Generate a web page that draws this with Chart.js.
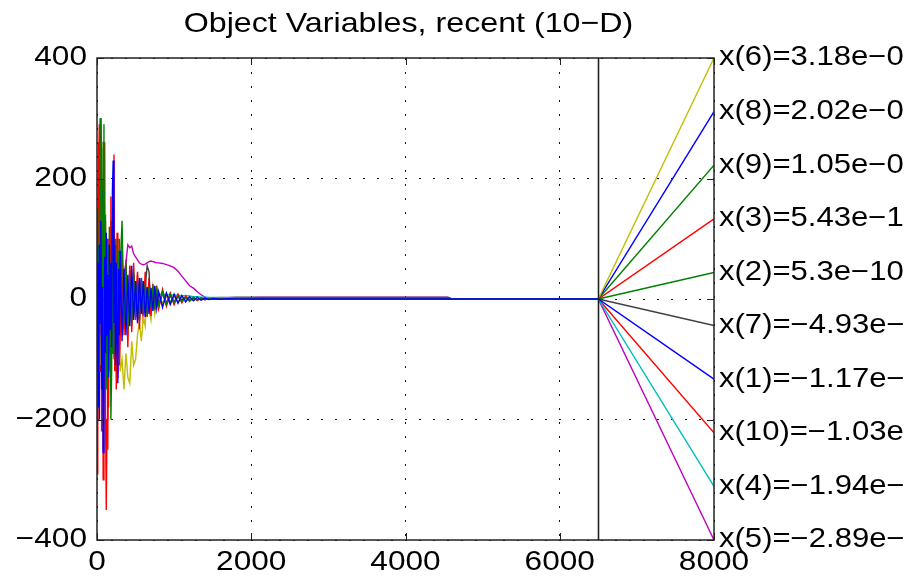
<!DOCTYPE html>
<html>
<head>
<meta charset="utf-8">
<script src="https://cdn.jsdelivr.net/npm/chart.js@4"></script>
<style>
  html, body { margin: 0; padding: 0; background: #fff; }
  #wrap { width: 904px; height: 584px; }
</style>
</head>
<body>
<div id="wrap"><canvas id="c" width="904" height="584"></canvas></div>
<script>
// iteration numbers shared by all ten object variables
const iters = [
  0, 10, 20, 30, 40, 50, 60, 70, 80, 90,
  100, 110, 120, 130, 140, 150, 160, 170, 180, 190,
  200, 210, 220, 230, 240, 250, 260, 270, 280, 290,
  300, 325, 350, 375, 400, 425, 450, 475, 500, 525,
  550, 575, 600, 625, 650, 675, 700, 725, 750, 775,
  800, 850, 900, 950, 1000, 1050, 1100, 1150, 1200, 1250,
  1300, 1350, 1400, 1450,
  1500, 1600, 1700, 1800, 2000, 2100, 2600, 3200, 3900, 4550, 4600, 6500
];

const x1 = [
  -120, 60, -180, 90, -40, 130, -150, 20, -255, -200, 70, -90, 110, -60, 40, -130, 90, -50, 60, -80,
  180, 230, -40, 90, -110, 60, -70, -140, 50, -60,
  80, -70, 50, -60, 40, -45, 55, -35, 30, -40, 35, -25, 30, -30, 20, -25, 18, -20, 22, -15,
  12, -14, 10, -9, 8, -7, 6, -5, 4, -3, 3, -2, 1.5, -1,
  0.8, -0.5, 0.3, 0.2, 0.1, 0.1, 0, 0, 0, 0, 0, 0
];
const x2 = [
  150, -60, 90, -120, 200, 300, 120, -40, 260, 290, -80, 140, -150, 60, -100, 90, -60, 40, -200, -120,
  70, -90, 50, -30, 100, -70, 60, -50, 80, -40,
  50, 130, -40, 60, -50, 35, -40, 45, -30, 25, -35, 30, -20, 25, -28, 20, -15, 18, -12, 15,
  -10, 12, -8, 7, -6, 5, -4, 3, -3, 2, -1.5, 1, -0.8, 0.5,
  -0.3, 0.2, -0.1, 0.1, 0, 0, 0, 0, 0, 0, 0, 0
];
const x3 = [
  -290, -150, 200, 290, 120, 280, -220, 150, -100, 80, 260, -180, -350, -200, 100, -180, 60, -90, 170, -60,
  120, -90, 240, -120, 50, -150, 110, -80, 60, -110,
  -70, 90, -60, 40, -80, 55, -45, 60, -35, 40, -50, 30, -25, 45, -30, 20, -28, 25, -18, 22,
  -15, 16, -12, 10, -9, 8, -6, 5, -4, 3, -2.5, 2, -1.2, 0.8,
  0.5, -0.3, 0.2, 0.1, 0, 0, 0, 0, 0, 0, 0, 0
];
const x4 = [
  50, -70, 90, -120, 60, -40, 80, -90, 30, -60, 40, -50, 60, -30, 40, -45, 20, -35, 25, -20,
  70, -40, 30, -50, 45, -25, 35, -30, 20, -15,
  30, -25, 20, -20, 15, -18, 12, -10, 14, -8, 10, 12, 8, -5, 9, 7, 10, 6, 8, 5,
  9, 7, 8, 6, 7, 6, 5, 6, 5, 4, 4, 3, 3, 2.5,
  2.5, 2, 2, 1.5, 1, 0.5, 0.3, 0.2, 0.1, 0.1, 0, 0
];
const x5 = [
  80, -120, 60, -90, 140, -60, 100, -40, 70, -20, 50, -110, 30, -120, 60, -80, 20, -40, 30, 10,
  -60, 40, -90, 30, -50, 60, -130, -40, 20, 50,
  30, -20, 40, 60, 90, 85, 88, 75, 70, 65, 60, 58, 57, 58, 60, 62, 63, 62, 61, 60,
  60, 59, 57, 55, 52, 46, 38, 30, 22, 18, 12, 7, 3, 1.5,
  0.8, 0.5, 1, 1.5, 2, 2.5, 2.5, 2.5, 2.5, 2.5, 0, 0
];
const x6 = [
  30, -60, 100, -80, 50, -110, 70, -50, 40, -90, 60, -70, 30, -100, 50, -60, 20, -120, 40, -80,
  60, -40, 90, -70, 30, -50, 80, -90, -30, -60,
  -120, -100, -150, -90, -130, -140, -70, -110, -100, -60, -40, -70, -30, -45, 15, -20, -35, 10, -25, -8,
  8, -10, 6, -8, 5, -5, 4, -3, 3, -2, 1.5, -1, 0.5, -0.3,
  0.2, 0.1, 0, 0, 0, 0, 0, 0, 0, 0, 0, 0
];
const x7 = [
  -60, 100, -40, 70, -110, 50, -80, 120, -30, 60, -70, 40, -90, 50, -30, 80, -60, 30, -50, 40,
  -30, 60, -40, 25, -60, 35, -20, 45, -35, 30,
  -40, 25, -30, 20, -35, 15, -25, 30, -20, 15, -25, 35, -10, 20, 55, 45, -30, 15, -20, 10,
  -8, 10, -6, 5, -5, 4, -3, 2.5, -2, 1.5, -1, 1, 1.5, 2,
  2, 2.5, 2.5, 3, 3, 3, 3, 3, 3, 3, 0, 0
];
const x8 = [
  60, -150, 90, -200, 130, -70, 50, 180, -110, 80, -90, 60, -60, 100, -40, 70, -100, 30, -50, 60,
  -40, 90, -80, 50, -60, 70, -50, 40, -90, 60,
  -40, 70, -30, 50, -45, 30, -35, 40, -25, 30, -20, 35, -28, 18, -22, 15, -18, 20, -12, 14,
  -10, 9, -8, 6, -5, 5, -4, 3, -2.5, 2, -1.5, 1, -0.8, 0.5,
  -0.3, 0.2, 0.1, 0, 0, 0, 0, 0, 0, 0, 0, 0
];
const x9 = [
  -40, 120, 60, -100, 300, 200, 250, -70, 140, -120, 80, -110, 90, -40, 60, -80, 120, -50, 130, -60,
  70, -50, 40, -35, 60, -30, 100, -60, 30, -45,
  60, -30, 40, -50, 25, -35, 30, -20, 28, -25, 20, -18, 15, -22, 12, -10, 14, -8, 10, -9,
  7, -8, 6, -5, 4, -4, 3, -2.5, 2, -1.5, 1, -0.8, 0.5, -0.3,
  0.2, -0.1, 0, 0, 0, 0, 0, 0, 0, 0, 0, 0
];
const x10 = [
  120, -200, 260, 150, -120, 290, -80, 200, -300, 100, -150, 130, -100, 80, -250, 90, -120, 60, -80, 100,
  -60, 140, -100, 80, -60, 90, -120, 60, -80, 100,
  -60, 80, -50, 65, -40, 55, -55, 40, -30, 45, -35, 30, -40, 25, -20, 35, -25, 18, -22, 15,
  -14, 12, -10, 9, -8, 6, -5, 4, -3, 2.5, -2, 1.5, -1, 0.6,
  -0.4, 0.2, -0.1, 0, 0, 0, 0, 0, 0, 0, 0, 0
];

// where each variable's label sits on the right edge (x = 8000)
const endY = [-133, 44, 133, -311, -400, 400, -44, 311, 222, -222];
const endLabels = [
  'x(1)=\u22121.17e\u221209', 'x(2)=5.3e\u221210', 'x(3)=5.43e\u221210',
  'x(4)=\u22121.94e\u221208', 'x(5)=\u22122.89e\u221208', 'x(6)=3.18e\u221209',
  'x(7)=\u22124.93e\u221210', 'x(8)=2.02e\u221209', 'x(9)=1.05e\u221209',
  'x(10)=\u22121.03e\u221208'
];
const xTickLabels = ['0', '2000', '4000', '6000', '8000'];
const yTickLabels = ['\u2212400', '\u2212200', '0', '200', '400'];
const title = 'Object Variables, recent (10\u2212D)';

const series = [x1, x2, x3, x4, x5, x6, x7, x8, x9, x10];
const colors = ['#0000ff', '#008000', '#ff0000', '#00bfbf', '#bf00bf',
                '#bfbf00', '#404040', '#0000ff', '#008000', '#ff0000'];
const lastIter = iters[iters.length - 1];

const FAMILY = '"Liberation Sans", Arial, sans-serif';

// glyphs in the original are stretched sideways, so draw them scaled
function wideText(ctx, txt, x, y, align, size, sx) {
  ctx.save();
  ctx.font = size + 'px ' + FAMILY;
  ctx.translate(x, y);
  ctx.scale(sx, 1);
  ctx.textAlign = align;
  ctx.fillText(txt, 0, 0);
  ctx.restore();
}

const framePlugin = {
  id: 'frame',
  afterDatasetsDraw(chart) {
    const { ctx, chartArea: a, scales: { x, y } } = chart;
    ctx.save();
    ctx.strokeStyle = '#222';
    ctx.lineWidth = 1.5;
    ctx.strokeRect(a.left, a.top, a.right - a.left, a.bottom - a.top);
    // inward ticks
    ctx.lineWidth = 1;
    ctx.beginPath();
    x.ticks.forEach(t => {
      const px = Math.round(x.getPixelForValue(t.value)) + 0.5;
      ctx.moveTo(px, a.bottom); ctx.lineTo(px, a.bottom - 7);
      ctx.moveTo(px, a.top); ctx.lineTo(px, a.top + 7);
    });
    y.ticks.forEach(t => {
      const py = Math.round(y.getPixelForValue(t.value)) + 0.5;
      ctx.moveTo(a.left, py); ctx.lineTo(a.left + 7, py);
      ctx.moveTo(a.right, py); ctx.lineTo(a.right - 7, py);
    });
    ctx.stroke();
    // marker of the latest iteration
    const vx = Math.round(x.getPixelForValue(lastIter)) + 0.5;
    ctx.lineWidth = 1.6;
    ctx.beginPath();
    ctx.moveTo(vx, a.top); ctx.lineTo(vx, a.bottom);
    ctx.stroke();

    ctx.fillStyle = '#000';
    ctx.textBaseline = 'middle';
    x.ticks.forEach((t, i) => {
      wideText(ctx, xTickLabels[i], x.getPixelForValue(t.value), a.bottom + 23, 'center', 27, 1.17);
    });
    y.ticks.forEach((t, i) => {
      wideText(ctx, yTickLabels[i], a.left - 10, y.getPixelForValue(t.value), 'right', 27, 1.17);
    });
    endY.forEach((v, k) => {
      wideText(ctx, endLabels[k], a.right + 5, y.getPixelForValue(v), 'left', 27, 1.15);
    });
    wideText(ctx, title, (a.left + a.right) / 2 + 3, 24, 'center', 28, 1.15);
    ctx.restore();
  }
};

const datasets = series.map((s, k) => ({
  data: iters.map((it, i) => ({ x: it, y: s[i] })).concat([{ x: 8000, y: endY[k] }]),
  borderColor: colors[k],
  borderWidth: 1.4,
  pointRadius: 0,
  tension: 0,
  fill: false
}));

new Chart(document.getElementById('c'), {
  type: 'line',
  data: { datasets },
  options: {
    responsive: false,
    animation: false,
    devicePixelRatio: 1,
    layout: { padding: { left: 97, right: 190, top: 58, bottom: 44 } },
    plugins: { legend: { display: false }, tooltip: { enabled: false }, title: { display: false } },
    scales: {
      x: {
        type: 'linear', min: 0, max: 8000,
        ticks: { stepSize: 2000, display: false },
        grid: { color: '#111', drawTicks: false, lineWidth: 1 },
        border: { display: false, dash: [2, 12] },
        afterFit: s => { s.height = 0; }
      },
      y: {
        type: 'linear', min: -400, max: 400,
        ticks: { stepSize: 200, display: false },
        grid: { color: '#111', drawTicks: false, lineWidth: 1 },
        border: { display: false, dash: [2, 12] },
        afterFit: s => { s.width = 0; }
      }
    }
  },
  plugins: [framePlugin]
});
</script>
</body>
</html>
